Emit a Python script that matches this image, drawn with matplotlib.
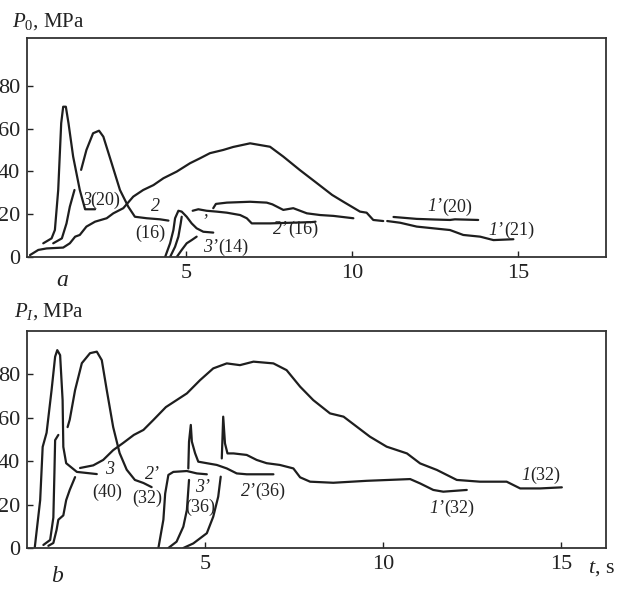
import matplotlib
matplotlib.use('Agg')
import matplotlib.pyplot as plt
from matplotlib.offsetbox import TextArea, HPacker, AnnotationBbox

plt.rcParams['font.family'] = ['Liberation Serif', 'DejaVu Serif']
plt.rcParams['mathtext.fontset'] = 'custom'
plt.rcParams['mathtext.rm'] = 'Liberation Serif'
plt.rcParams['mathtext.it'] = 'Liberation Serif:italic'

# ---- panel a: P0 vs t ----
a_big_t = [0.3, 0.55, 0.8, 1.3, 1.5, 1.66, 1.8, 2.0, 2.26, 2.61, 2.81, 3.11, 3.41, 3.71, 4.02, 4.32,
           4.72, 5.12, 5.42, 5.72, 6.12, 6.42, 6.93, 7.23, 7.53, 7.93, 8.43, 8.9, 9.4, 9.74, 10.24,
           10.44, 10.64, 10.94]
a_big_p = [0.9, 3.3, 4.0, 4.4, 6.4, 9.5, 10.3, 14.2, 16.5, 18.1, 20.4, 22.8, 28.2, 31.3, 33.6, 36.8,
           39.9, 43.8, 46.1, 48.5, 50.0, 51.4, 53.1, 52.3, 51.5, 46.9, 40.6, 35.0, 29.0, 25.8, 21.2,
           20.7, 17.3, 16.8]
a_tail_t = [11.06, 11.45, 11.95, 12.45, 12.95, 13.35, 13.86, 14.26, 14.86]
a_tail_p = [16.8, 16.0, 14.2, 13.4, 12.6, 10.3, 9.5, 7.9, 8.3]
a_flat_t = [11.25, 11.95, 12.5, 12.95, 13.1, 13.8]
a_flat_p = [18.7, 17.8, 17.5, 17.3, 17.6, 17.3]
a_3_t = [0.7, 0.95, 1.05, 1.15, 1.24, 1.3, 1.38, 1.46, 1.6, 1.8, 1.96, 2.26]
a_3_p = [6.4, 8.7, 12.6, 31.3, 62.5, 70.2, 70.2, 62.5, 46.9, 31.3, 22.3, 22.3]
a_3r_t = [1.0, 1.26, 1.4, 1.5, 1.64]
a_3r_p = [6.4, 8.7, 15.7, 23.5, 31.3]
a_2_t = [1.84, 2.0, 2.2, 2.38, 2.51, 2.76, 3.01, 3.26, 3.46, 3.82, 4.22, 4.47]
a_2_p = [40.7, 50.0, 57.8, 59.0, 56.2, 43.8, 31.3, 23.5, 18.8, 18.1, 17.6, 17.0]
a_3p_t = [4.37, 4.52, 4.62, 4.67, 4.77, 4.87, 5.02, 5.17, 5.32, 5.52, 5.82]
a_3p_p = [0.0, 6.4, 12.6, 18.1, 21.6, 21.2, 18.8, 15.7, 13.4, 11.8, 11.4]
a_m_t = [4.52, 4.67, 4.77, 4.84, 4.87]
a_m_p = [0.0, 4.8, 9.5, 15.7, 18.8]
a_n_t = [4.72, 4.87, 5.02, 5.17, 5.32]
a_n_p = [0.0, 3.3, 6.4, 7.9, 9.5]
a_2p_t = [5.2, 5.37, 5.62, 5.92, 6.23, 6.63, 6.83, 6.98, 7.53, 7.93, 8.8, 8.9]
a_2p_p = [21.6, 22.3, 21.6, 21.2, 20.7, 19.6, 18.1, 15.7, 15.7, 15.9, 16.3, 16.5]
a_up_t = [5.82, 5.9, 6.23, 6.93, 7.43, 7.6, 7.93, 8.23, 8.64, 9.04, 9.44, 10.04]
a_up_p = [22.8, 24.8, 25.4, 25.8, 25.4, 24.6, 22.0, 22.8, 20.4, 19.6, 19.2, 18.1]

# ---- panel b: PI vs t ----
b_big_t = [1.49, 1.86, 2.14, 2.42, 2.7, 3.0, 3.27, 3.55, 3.9, 4.49, 4.86, 5.23, 5.61, 5.98, 6.36,
           6.92, 7.29, 7.67, 8.04, 8.51, 8.89, 9.26, 9.63, 10.1, 10.67, 11.04, 11.51, 12.07, 12.72,
           13.47, 13.85, 14.41, 15.02]
b_big_p = [36.8, 38.0, 40.5, 45.0, 48.3, 52.0, 54.3, 58.9, 64.8, 71.1, 77.2, 82.6, 84.9, 84.1, 85.7,
           84.9, 81.8, 74.2, 68.0, 61.9, 60.4, 55.8, 51.2, 46.6, 43.5, 38.9, 35.9, 31.3, 30.5,
           30.5, 27.4, 27.4, 27.9]
b_3_t = [0.22, 0.37, 0.44, 0.55, 0.69, 0.79, 0.85, 0.93, 1.0, 1.02, 1.1, 1.4, 1.68, 1.96]
b_3_p = [0.5, 22.0, 46.5, 53.0, 72.6, 88.0, 91.0, 88.7, 68.0, 46.5, 39.0, 35.0, 34.5, 34.0]
b_r1_t = [0.46, 0.65, 0.74, 0.77, 0.79, 0.88]
b_r1_p = [1.4, 3.7, 14.0, 34.5, 49.6, 52.0]
b_r2_t = [0.6, 0.74, 0.83, 0.88, 1.02, 1.1, 1.2, 1.35]
b_r2_p = [1.0, 2.3, 8.3, 13.0, 15.0, 22.0, 26.7, 32.6]
b_2_t = [1.14, 1.2, 1.35, 1.54, 1.77, 1.96, 2.1, 2.24, 2.42, 2.6, 2.8, 3.03, 3.27, 3.5]
b_2_p = [55.6, 59.0, 72.6, 85.0, 89.6, 90.3, 86.4, 72.6, 55.6, 43.7, 36.0, 31.3, 29.9, 28.0]
b_e_t = [3.69, 3.83, 3.88, 3.97, 4.11, 4.49, 4.77, 5.05]
b_e_p = [0.0, 13.0, 25.0, 33.6, 35.0, 35.4, 34.3, 33.9]
b_f_t = [3.97, 4.2, 4.39, 4.49, 4.55]
b_f_p = [0.0, 2.9, 9.8, 17.5, 31.3]
b_s1_t = [4.53, 4.55, 4.6, 4.63, 4.72, 4.81, 5.05, 5.33, 5.61, 5.89, 6.17, 6.92]
b_s1_p = [36.6, 48.9, 56.6, 48.9, 43.6, 39.7, 39.0, 38.2, 36.6, 34.3, 33.9, 33.9]
b_g_t = [4.39, 4.67, 5.05, 5.23, 5.37, 5.44]
b_g_p = [0.0, 2.1, 6.8, 14.4, 23.6, 32.8]
b_s2_t = [5.47, 5.51, 5.56, 5.63, 5.8, 6.17, 6.45, 6.73, 7.1, 7.48, 7.67, 7.95, 8.6, 9.54,
          10.76, 11.04, 11.41, 11.69, 12.35]
b_s2_p = [41.2, 60.4, 48.1, 43.5, 43.5, 42.8, 40.5, 39.0, 38.2, 36.6, 32.5, 30.5, 30.0, 30.9,
          31.7, 29.7, 26.7, 25.9, 26.7]

yticks = [0, 20, 40, 60, 80]
xticks = [5, 10, 15]

fig = plt.figure(figsize=(6.32, 5.96), dpi=100)
W, H = 632, 596
ax_a = fig.add_axes([27 / W, 1 - 257 / H, (606 - 27) / W, (257 - 38) / H])
ax_b = fig.add_axes([27 / W, 1 - 548 / H, (606 - 27) / W, (548 - 331) / H])

lc = '#1e1e1e'
lw = 1.6
for t, p in [(a_big_t, a_big_p), (a_tail_t, a_tail_p), (a_flat_t, a_flat_p), (a_3_t, a_3_p),
             (a_3r_t, a_3r_p), (a_2_t, a_2_p), (a_3p_t, a_3p_p), (a_m_t, a_m_p), (a_n_t, a_n_p),
             (a_2p_t, a_2p_p), (a_up_t, a_up_p)]:
    ax_a.plot(t, p, color=lc, lw=lw, solid_capstyle='round')
for t, p in [(b_big_t, b_big_p), (b_3_t, b_3_p), (b_r1_t, b_r1_p), (b_r2_t, b_r2_p), (b_2_t, b_2_p),
             (b_e_t, b_e_p), (b_f_t, b_f_p), (b_s1_t, b_s1_p), (b_g_t, b_g_p), (b_s2_t, b_s2_p)]:
    ax_b.plot(t, p, color=lc, lw=lw, solid_capstyle='round')

ax_a.set_xlim(0.21, 17.65)
ax_a.set_ylim(0, 102.3)
ax_b.set_xlim(0, 16.26)
ax_b.set_ylim(0, 99.8)

for ax in (ax_a, ax_b):
    ax.set_xticks(xticks)
    ax.set_yticks(yticks)
    ax.tick_params(direction='in', length=4, width=1, labelsize=16, colors='#222222', pad=5)
    for s in ax.spines.values():
        s.set_linewidth(1.3)
        s.set_color('#333333')

fs = 13


def lab(ax, x, y, num, rest=''):
    # curve number in italic, the rest upright
    parts = []
    if num:
        parts.append(TextArea(num, textprops=dict(fontsize=fs, style='italic', color='#222222')))
    if rest:
        parts.append(TextArea(rest, textprops=dict(fontsize=fs, color='#222222')))
    box = HPacker(children=parts, align='baseline', pad=0, sep=0)
    ab = AnnotationBbox(box, (x, y), frameon=False, box_alignment=(0.5, 0.5), pad=0)
    ax.add_artist(ab)


lab(ax_a, 2.44, 26.6, '3', '(20)')
lab(ax_a, 4.07, 23.4, '2')
lab(ax_a, 3.92, 11.2, '', '(16)')
lab(ax_a, 6.2, 4.7, '3’', '(14)')
lab(ax_a, 5.54, 16.5, '’')
lab(ax_a, 8.31, 13.0, '2’', '(16)')
lab(ax_a, 12.95, 23.4, '1’', '(20)')
lab(ax_a, 14.8, 12.6, '1’', '(21)')

lab(ax_b, 2.33, 35.9, '3')
lab(ax_b, 2.25, 25.7, '', '(40)')
lab(ax_b, 3.51, 33.6, '2’')
lab(ax_b, 3.37, 23.0, '', '(32)')
lab(ax_b, 4.94, 28.0, '3’')
lab(ax_b, 4.86, 18.9, '', '(36)')
lab(ax_b, 6.63, 26.2, '2’', '(36)')
lab(ax_b, 14.44, 33.6, '1', '(32)')
lab(ax_b, 11.94, 18.4, '1’', '(32)')

fig.text(12 / W, 1 - 22 / H, r'$P_0$, MPa', fontsize=15, ha='left', va='center', color='#222222')
fig.text(14 / W, 1 - 312 / H, r'$P_I$, MPa', fontsize=15, ha='left', va='center', color='#222222')
fig.text(62 / W, 1 - 280 / H, 'a', fontsize=17, style='italic', ha='center', va='center', color='#222222')
fig.text(57 / W, 1 - 577 / H, 'b', fontsize=17, style='italic', ha='center', va='center', color='#222222')
fig.text(602 / W, 1 - 568 / H, r'$t$, s', fontsize=16, ha='center', va='center', color='#222222')

fig.savefig('out.png', dpi=100)
